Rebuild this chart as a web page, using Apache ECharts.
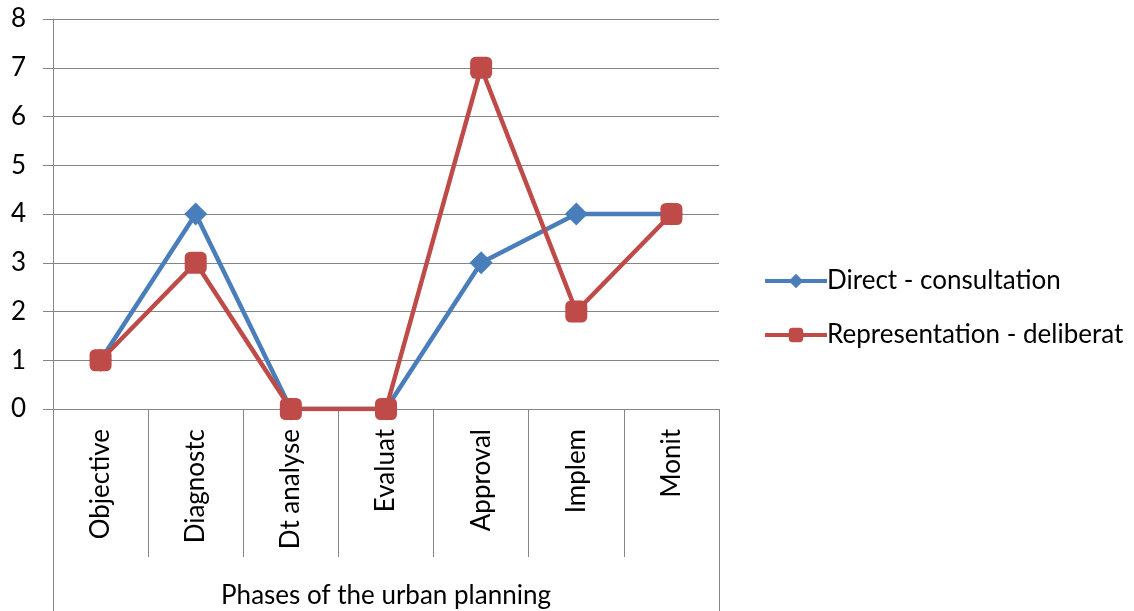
<!DOCTYPE html>
<html>
<head>
<meta charset="utf-8">
<script src="https://cdn.jsdelivr.net/npm/echarts@6/dist/echarts.min.js"></script>
<style>
  html, body { margin: 0; padding: 0; background: #fff; }
  #chart { width: 1134px; height: 611px; }
</style>
</head>
<body>
<div id="chart"></div>
<script>
// Participation levels per phase of the urban planning process
const phases = ['Objective', 'Diagnostc', 'Dt analyse', 'Evaluat', 'Approval', 'Implem', 'Monit'];
const directConsultation = [1, 4, 0, 0, 3, 4, 4];
const representationDeliberat = [1, 3, 0, 0, 7, 2, 4];
const yTicks = [0, 1, 2, 3, 4, 5, 6, 7, 8];

const FONT = 'Lato';
const FS = 26;
const GRID = { left: 53, right: 415, top: 19, bottom: 202 };
const AXIS_GREY = '#868686';

const chart = echarts.init(document.getElementById('chart'), null, { renderer: 'canvas' });

chart.setOption({
  animation: false,
  backgroundColor: '#ffffff',
  textStyle: { fontFamily: FONT },
  grid: Object.assign({ outerBoundsMode: 'none', containLabel: false }, GRID),
  legend: {
    orient: 'vertical',
    left: 758,
    top: 263,
    itemWidth: 62,
    itemHeight: 18,
    itemGap: 28,
    lineStyle: { width: 4 },
    textStyle: { fontFamily: FONT, fontSize: FS, color: '#000', padding: [0, 0, 0, -5] },
    data: ['Direct - consultation', 'Representation - deliberat']
  },
  xAxis: {
    type: 'category',
    data: phases,
    boundaryGap: true,
    name: 'Phases of the urban planning',
    nameLocation: 'middle',
    nameGap: 174,
    nameTextStyle: { fontFamily: FONT, fontSize: FS, color: '#000' },
    axisLine: { show: true, lineStyle: { color: AXIS_GREY, width: 1 } },
    axisTick: { show: true, length: 148, lineStyle: { color: AXIS_GREY, width: 1 } },
    axisLabel: { rotate: 90, margin: 20, fontFamily: FONT, fontSize: FS, color: '#000' },
    splitLine: { show: false }
  },
  yAxis: {
    type: 'value',
    min: yTicks[0],
    max: yTicks[yTicks.length - 1],
    interval: 1,
    axisLine: { show: true, lineStyle: { color: AXIS_GREY, width: 1 } },
    axisTick: { show: true, length: 10, lineStyle: { color: AXIS_GREY, width: 1 } },
    axisLabel: { margin: 27, fontFamily: FONT, fontSize: FS, color: '#000' },
    splitLine: { show: true, lineStyle: { color: AXIS_GREY, width: 1 } }
  },
  series: [
    {
      name: 'Direct - consultation',
      type: 'line',
      data: directConsultation,
      color: '#4A7EBB',
      symbol: 'diamond',
      symbolSize: 23,
      lineStyle: { width: 4.5, color: '#4A7EBB' },
      itemStyle: { color: '#4A7EBB' }
    },
    {
      name: 'Representation - deliberat',
      type: 'line',
      data: representationDeliberat,
      color: '#BE4B48',
      symbol: 'roundRect',
      symbolSize: 22,
      lineStyle: { width: 4.5, color: '#BE4B48' },
      itemStyle: { color: '#BE4B48' }
    }
  ],
  graphic: [
    // frame around the axis title, continuing the outer edges below the plot
    { type: 'line', shape: { x1: 53.5, y1: 409, x2: 53.5, y2: 611 }, style: { stroke: AXIS_GREY, lineWidth: 1 } },
    { type: 'line', shape: { x1: 719.5, y1: 409, x2: 719.5, y2: 611 }, style: { stroke: AXIS_GREY, lineWidth: 1 } }
  ]
});
</script>
</body>
</html>
